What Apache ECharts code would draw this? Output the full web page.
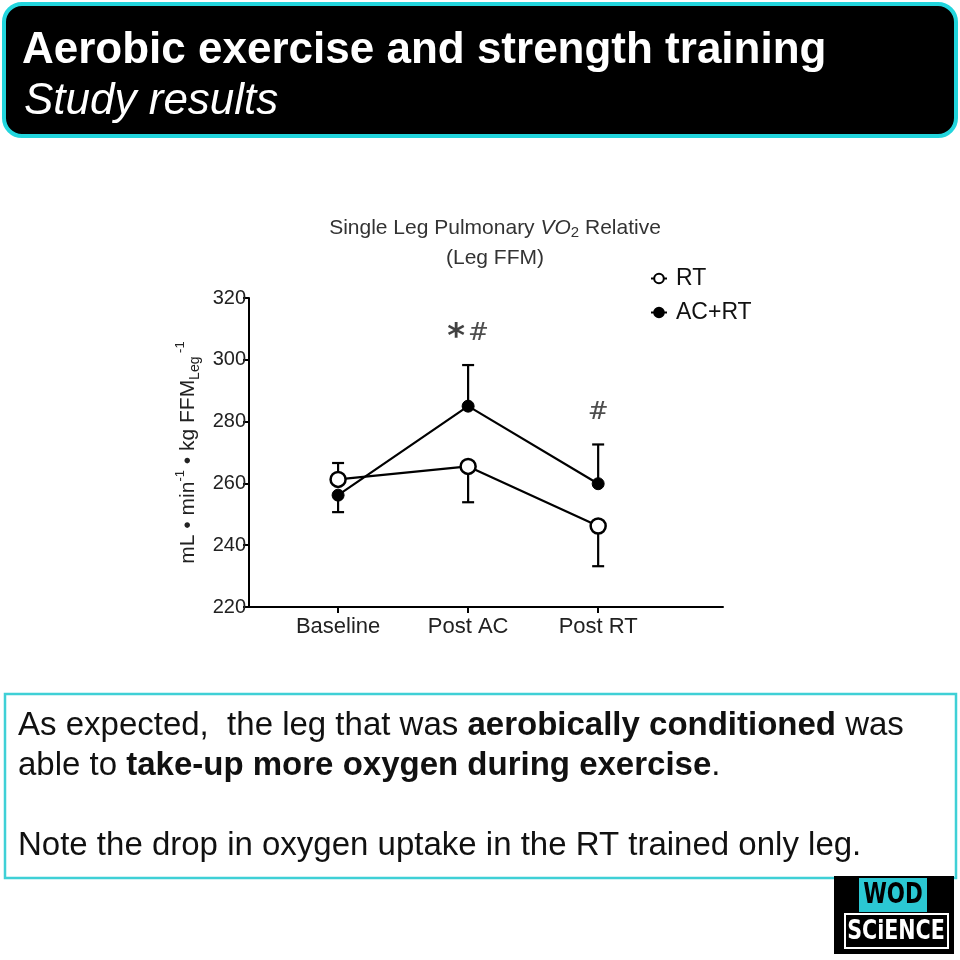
<!DOCTYPE html>
<html>
<head>
<meta charset="utf-8">
<script src="https://cdn.jsdelivr.net/npm/echarts@6/dist/echarts.min.js"></script>
<style>
  html, body { margin: 0; padding: 0; background: #fff; }
  #main { width: 960px; height: 960px; }
</style>
</head>
<body>
<div id="main"></div>
<script>
// values
var categories = ['Baseline', 'Post AC', 'Post RT'];
var rtMean = [261.3, 265.5, 246.2];
var rtBarEnd = [266.6, 253.9, 233.2];   // one-sided SEM bars
var acMean = [256.2, 285.0, 259.9];
var acBarEnd = [250.7, 298.3, 272.6];
var markText = ['', '{s|*}{h|#}', '{h|#}'];
var markY = [null, 308.5, 283];

var FONT = "'Liberation Sans', Arial, sans-serif";
var LOGO_FONT = "'DejaVu Sans Condensed', 'Liberation Sans Narrow', sans-serif";

function toPoints(vals) {
  return vals.map(function (v, i) { return [i + 1, v]; });
}
var barData = [];
for (var i = 0; i < categories.length; i++) {
  barData.push([i + 1, rtMean[i], rtBarEnd[i]]);
  barData.push([i + 1, acMean[i], acBarEnd[i]]);
}
var markData = [];
markText.forEach(function (t, i) {
  if (t) markData.push({ value: [i + 1, markY[i]], label: { formatter: t } });
});

var chart = echarts.init(document.getElementById('main'));

var bodyRich = {
  n: { fontFamily: FONT, fontSize: 33, fill: '#111' },
  b: { fontFamily: FONT, fontSize: 33, fontWeight: 'bold', fill: '#111' }
};

var option = {
  backgroundColor: '#fff',
  animation: false,
  title: {
    text: 'Single Leg Pulmonary {it|VO}{sub|2} Relative\n(Leg FFM)',
    left: 490,
    textAlign: 'center',
    top: 208,
    textStyle: {
      fontFamily: FONT, fontSize: 21, fontWeight: 'normal', color: '#333', lineHeight: 30,
      rich: {
        it: { fontFamily: FONT, fontSize: 21, fontStyle: 'italic', color: '#333' },
        sub: { fontFamily: FONT, fontSize: 15, color: '#333', padding: [10, 0, 0, 0] }
      }
    }
  },
  legend: {
    orient: 'vertical',
    left: 645,
    top: 262,
    itemGap: 11,
    itemWidth: 16,
    itemHeight: 12,
    textStyle: { fontFamily: FONT, fontSize: 23, color: '#111', padding: [0, 0, 0, 4] },
    data: ['RT', 'AC+RT']
  },
  grid: { left: 249, right: 237, top: 298, bottom: 353 },
  xAxis: {
    type: 'value',
    min: 0.315,
    max: 3.96,
    splitLine: { show: false },
    axisLine: { lineStyle: { color: '#000', width: 2 } },
    axisTick: { show: true, length: 6, lineStyle: { color: '#000', width: 2 }, customValues: [1, 2, 3] },
    axisLabel: {
      customValues: [1, 2, 3],
      formatter: function (v) { return categories[Math.round(v) - 1]; },
      fontFamily: FONT, fontSize: 22, color: '#222', margin: 9
    }
  },
  yAxis: {
    type: 'value',
    min: 220,
    max: 320,
    interval: 20,
    splitLine: { show: false },
    axisLine: { show: true, lineStyle: { color: '#000', width: 2 } },
    axisTick: { show: true, length: 6, lineStyle: { color: '#000', width: 2 } },
    axisLabel: { fontFamily: FONT, fontSize: 20, color: '#222', margin: 3 },
    name: 'mL • min{sup|-1} • kg FFM{sub|Leg}{sup| -1}',
    nameLocation: 'middle',
    nameRotate: 90,
    nameGap: 47,
    nameTextStyle: {
      fontFamily: FONT, fontSize: 21, color: '#222', lineHeight: 28,
      rich: {
        sup: { fontFamily: FONT, fontSize: 13, color: '#222', verticalAlign: 'top', lineHeight: 28 },
        sub: { fontFamily: FONT, fontSize: 14, color: '#222', verticalAlign: 'bottom', lineHeight: 28 }
      }
    }
  },
  series: [
    {
      type: 'custom',
      name: 'err',
      silent: true,
      z: 1,
      data: barData,
      encode: { x: 0, y: [1, 2] },
      renderItem: function (params, api) {
        var p0 = api.coord([api.value(0), api.value(1)]);
        var p1 = api.coord([api.value(0), api.value(2)]);
        var hw = 6;
        var st = { stroke: '#000', lineWidth: 2.2 };
        return {
          type: 'group',
          children: [
            { type: 'line', shape: { x1: p0[0], y1: p0[1], x2: p1[0], y2: p1[1] }, style: st },
            { type: 'line', shape: { x1: p1[0] - hw, y1: p1[1], x2: p1[0] + hw, y2: p1[1] }, style: st }
          ]
        };
      }
    },
    {
      name: 'RT',
      type: 'line',
      z: 3,
      data: toPoints(rtMean),
      symbol: 'circle',
      symbolSize: 15,
      lineStyle: { color: '#000', width: 2.2 },
      itemStyle: { color: '#fff', borderColor: '#000', borderWidth: 2.5 }
    },
    {
      name: 'AC+RT',
      type: 'line',
      z: 4,
      data: toPoints(acMean),
      symbol: 'circle',
      symbolSize: 12,
      lineStyle: { color: '#000', width: 2.2 },
      itemStyle: { color: '#000', borderColor: '#000', borderWidth: 1 }
    },
    {
      type: 'scatter',
      name: 'marks',
      silent: true,
      symbolSize: 0,
      data: markData,
      label: {
        show: true,
        position: 'inside',
        rich: {
          s: { fontFamily: "'DejaVu Sans', sans-serif", fontSize: 34, fontWeight: 'bold', color: '#111', padding: [10, 3, 0, 0] },
          h: { fontFamily: "'DejaVu Serif', serif", fontSize: 25, color: '#222' }
        }
      }
    }
  ],
  graphic: [
    {
      type: 'rect',
      shape: { x: 4, y: 4, width: 952, height: 132, r: 18 },
      style: { fill: '#000', stroke: '#22d5dd', lineWidth: 4 }
    },
    {
      type: 'text',
      x: 22, y: 51,
      style: {
        text: 'Aerobic exercise and strength training',
        fontFamily: FONT, fontSize: 44, fontWeight: 'bold', fill: '#fff',
        verticalAlign: 'middle'
      }
    },
    {
      type: 'text',
      x: 24, y: 102,
      style: {
        text: 'Study results',
        fontFamily: FONT, fontSize: 44, fontStyle: 'italic', fill: '#fff',
        verticalAlign: 'middle'
      }
    },
    {
      type: 'rect',
      shape: { x: 5, y: 694, width: 951, height: 184 },
      style: { fill: '#fff', stroke: '#3fd0d6', lineWidth: 2.5 }
    },
    {
      type: 'text',
      x: 18, y: 726,
      style: {
        text: '{n|As expected,  the leg that was }{b|aerobically conditioned}{n| was}',
        verticalAlign: 'middle',
        rich: bodyRich
      }
    },
    {
      type: 'text',
      x: 18, y: 766,
      style: {
        text: '{n|able to }{b|take-up more oxygen during exercise}{n|.}',
        verticalAlign: 'middle',
        rich: bodyRich
      }
    },
    {
      type: 'text',
      x: 18, y: 846,
      style: {
        text: 'Note the drop in oxygen uptake in the RT trained only leg.',
        verticalAlign: 'middle',
        fontFamily: FONT, fontSize: 33, fill: '#111'
      }
    },
    {
      type: 'group',
      children: [
        { type: 'rect', shape: { x: 834, y: 876, width: 120, height: 78 }, style: { fill: '#000' } },
        { type: 'rect', shape: { x: 859, y: 878, width: 68, height: 34 }, style: { fill: '#2bc8d3' } },
        {
          type: 'text', x: 893, y: 896, scaleX: 0.85,
          style: {
            text: 'WOD', align: 'center', verticalAlign: 'middle',
            fontFamily: LOGO_FONT, fontSize: 28, fontWeight: 'bold', fill: '#000'
          }
        },
        { type: 'rect', shape: { x: 845, y: 914, width: 103, height: 34 }, style: { fill: '#000', stroke: '#fff', lineWidth: 2 } },
        {
          type: 'text', x: 896, y: 932, scaleX: 0.85,
          style: {
            text: 'SCiENCE', align: 'center', verticalAlign: 'middle',
            fontFamily: LOGO_FONT, fontSize: 27, fontWeight: 'bold', fill: '#fff'
          }
        }
      ]
    }
  ]
};

chart.setOption(option);
</script>
</body>
</html>
